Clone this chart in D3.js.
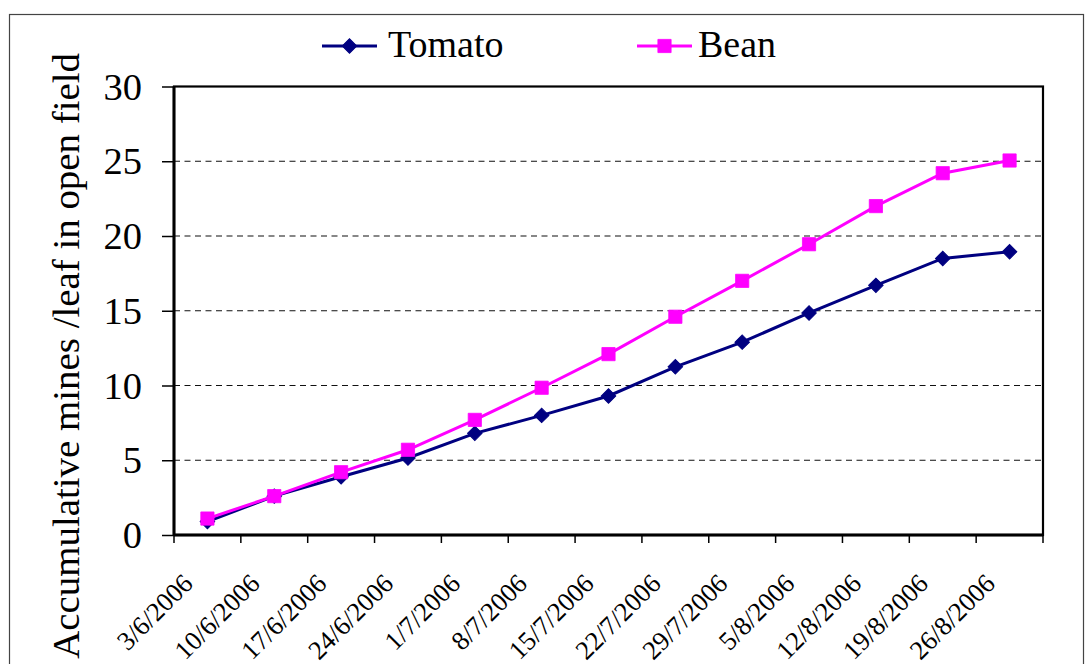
<!DOCTYPE html>
<html>
<head>
<meta charset="utf-8">
<script src="https://cdn.jsdelivr.net/npm/d3@7"></script>
<style>
  html, body { margin: 0; padding: 0; background: #fff; font-family: 'Liberation Serif'; }
  svg { display: block; font-family: 'Liberation Serif'; }
</style>
</head>
<body>
<svg id="chart" width="1085" height="664" font-family="Liberation Serif"></svg>
<script>
// Sampling dates (weekly)
const dates = ["3/6/2006", "10/6/2006", "17/6/2006", "24/6/2006", "1/7/2006", "8/7/2006",
  "15/7/2006", "22/7/2006", "29/7/2006", "5/8/2006", "12/8/2006", "19/8/2006", "26/8/2006"];
// Accumulative mines per leaf
const tomato = [0.9, 2.6, 3.9, 5.15, 6.8, 8.0, 9.3, 11.25, 12.9, 14.85, 16.7, 18.5, 18.95];
const bean = [1.1, 2.6, 4.2, 5.7, 7.7, 9.85, 12.1, 14.6, 17.0, 19.45, 22.0, 24.2, 25.05];
const yTicks = [0, 5, 10, 15, 20, 25, 30];
const seriesNames = ["Tomato", "Bean"];

const serifFamily = "Liberation Serif";
const svg = d3.select("#chart");
const plot = { left: 174, right: 1043, top: 86.5, bottom: 535 };

function serifText(sel, size) {
  return sel.attr("font-family", serifFamily)
    .attr("font-size", size)
    .style("font-family", `'${serifFamily}'`)
    .style("font-size", `${size}px`);
}

// Chart-area border
svg.append("rect")
  .attr("x", 9.5).attr("y", 14.5)
  .attr("width", 1074).attr("height", 700)
  .attr("fill", "none").attr("stroke", "#444").attr("stroke-width", 1.2);

const x = d3.scaleBand().domain(dates).range([plot.left, plot.right]).padding(0);
const y = d3.scaleLinear().domain([0, 30]).range([plot.bottom, plot.top]);

// Dashed horizontal gridlines
svg.append("g").selectAll("line")
  .data(yTicks.filter(t => t > 0 && t < 30))
  .join("line")
  .attr("x1", plot.left).attr("x2", plot.right)
  .attr("y1", d => y(d)).attr("y2", d => y(d))
  .attr("stroke", "#111").attr("stroke-width", 1.2)
  .attr("stroke-dasharray", "6,4.5");

// Y axis
const yAxis = svg.append("g")
  .attr("transform", `translate(${plot.left},0)`)
  .call(d3.axisLeft(y).tickValues(yTicks).tickSize(12).tickPadding(20).tickSizeOuter(0));
yAxis.attr("font-family", serifFamily).attr("font-size", 38);
yAxis.select(".domain").remove();
yAxis.selectAll(".tick line").attr("stroke", "#000").attr("stroke-width", 1.5);
serifText(yAxis.selectAll(".tick text"), 38.5)
  .attr("fill", "#000")
  .attr("dy", "0.33em");

// X axis: tick marks on category boundaries
const bounds = dates.map(d => x(d)).concat([plot.right]);
svg.append("g").selectAll("line")
  .data(bounds)
  .join("line")
  .attr("x1", d => d).attr("x2", d => d)
  .attr("y1", plot.bottom).attr("y2", plot.bottom + 8)
  .attr("stroke", "#000").attr("stroke-width", 1.5);

// Rotated date labels
serifText(svg.append("g").selectAll("text")
  .data(dates)
  .join("text")
  .attr("transform", d => `translate(${x(d) + x.bandwidth() / 2 - 13},${plot.bottom + 50}) rotate(-45)`)
  .attr("text-anchor", "end"), 26.5)
  .text(d => d);

// Plot frame
svg.append("rect")
  .attr("x", plot.left).attr("y", plot.top)
  .attr("width", plot.right - plot.left).attr("height", plot.bottom - plot.top)
  .attr("fill", "none").attr("stroke", "#000").attr("stroke-width", 2.2);
svg.append("line")
  .attr("x1", plot.left).attr("x2", plot.right)
  .attr("y1", plot.bottom).attr("y2", plot.bottom)
  .attr("stroke", "#000").attr("stroke-width", 3);
svg.append("line")
  .attr("x1", plot.left).attr("x2", plot.left)
  .attr("y1", plot.top).attr("y2", plot.bottom)
  .attr("stroke", "#000").attr("stroke-width", 3);

// Y axis title
serifText(svg.append("text")
  .attr("transform", `translate(79,53) rotate(-90)`)
  .attr("text-anchor", "end"), 38.9)
  .text("Accumulative mines /leaf in open field");

const cx = d => x(d) + x.bandwidth() / 2;
const line = d3.line().x(d => cx(d.date)).y(d => y(d.v));
const square = d3.symbol().type(d3.symbolSquare).size(175);

const series = [
  { name: seriesNames[0], values: tomato, color: "#000080", shape: "diamond" },
  { name: seriesNames[1], values: bean, color: "#FF00FF", shape: "square" }
];

function drawMarker(g, shape, color) {
  if (shape === "diamond") {
    g.append("path").attr("d", d3.symbol().type(d3.symbolSquare).size(105)())
      .attr("transform", "rotate(45)")
      .attr("fill", color).attr("stroke", color).attr("stroke-width", 1);
  } else {
    g.append("path").attr("d", square())
      .attr("fill", color).attr("stroke", color).attr("stroke-width", 0.8);
  }
}

series.forEach(s => {
  const pts = dates.map((d, i) => ({ date: d, v: s.values[i] }));
  svg.append("path")
    .datum(pts)
    .attr("d", line)
    .attr("fill", "none")
    .attr("stroke", s.color)
    .attr("stroke-width", 3);
  const mk = svg.append("g").selectAll("g")
    .data(pts)
    .join("g")
    .attr("transform", d => `translate(${cx(d.date)},${y(d.v)})`);
  mk.each(function () { drawMarker(d3.select(this), s.shape, s.color); });
});

// Legend
const legend = [
  { s: series[0], x0: 322, tx: 388 },
  { s: series[1], x0: 637, tx: 698 }
];
legend.forEach(l => {
  const g = svg.append("g");
  g.append("line")
    .attr("x1", l.x0).attr("x2", l.x0 + 55)
    .attr("y1", 46).attr("y2", 46)
    .attr("stroke", l.s.color).attr("stroke-width", 3);
  const m = g.append("g").attr("transform", `translate(${l.x0 + 27.5},46)`);
  drawMarker(m, l.s.shape, l.s.color);
  serifText(g.append("text")
    .attr("x", l.tx).attr("y", 57), 38)
    .text(l.s.name);
});
</script>
</body>
</html>
